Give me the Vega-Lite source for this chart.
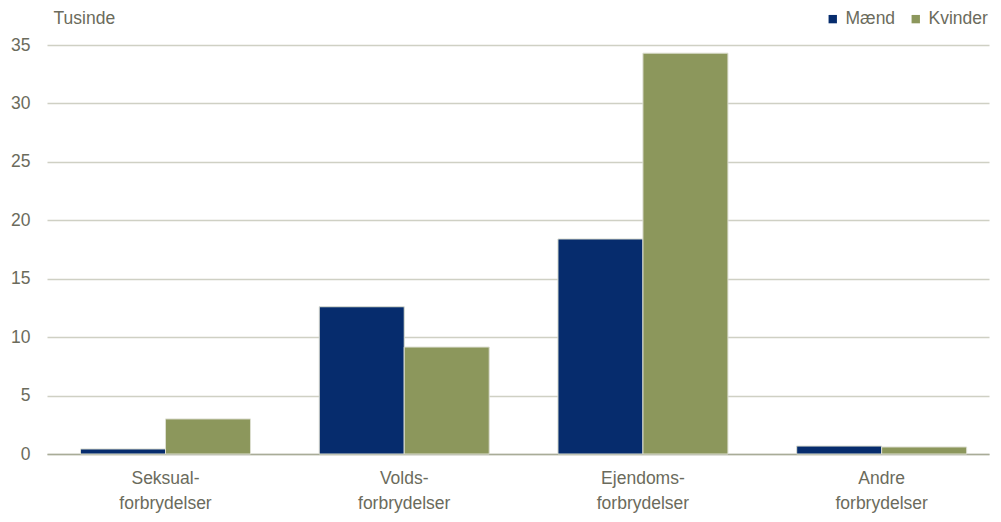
{
  "$schema": "https://vega.github.io/schema/vega-lite/v6.json",
  "autosize": {"type": "none"},
  "width": 942,
  "height": 409,
  "padding": {"left": 47, "top": 45, "right": 12, "bottom": 68},
  "background": "white",
  "config": {
    "view": {"stroke": null},
    "font": "Liberation Sans",
    "axis": {"labelFont": "Liberation Sans", "titleFont": "Liberation Sans", "labelColor": "#6B6B5C", "titleColor": "#6B6B5C"},
    "legend": {"labelFont": "Liberation Sans", "labelColor": "#6B6B5C"}
  },
  "data": {
    "values": [
      {"kategori": "Seksual-|forbrydelser", "koen": "Mænd", "vaerdi": 0.43},
      {"kategori": "Seksual-|forbrydelser", "koen": "Kvinder", "vaerdi": 3.0},
      {"kategori": "Volds-|forbrydelser", "koen": "Mænd", "vaerdi": 12.6},
      {"kategori": "Volds-|forbrydelser", "koen": "Kvinder", "vaerdi": 9.15},
      {"kategori": "Ejendoms-|forbrydelser", "koen": "Mænd", "vaerdi": 18.4},
      {"kategori": "Ejendoms-|forbrydelser", "koen": "Kvinder", "vaerdi": 34.3},
      {"kategori": "Andre|forbrydelser", "koen": "Mænd", "vaerdi": 0.68},
      {"kategori": "Andre|forbrydelser", "koen": "Kvinder", "vaerdi": 0.6}
    ]
  },
  "mark": {"type": "bar", "stroke": "#DCDED0", "strokeWidth": 1},
  "encoding": {
    "x": {
      "field": "kategori",
      "type": "nominal",
      "sort": null,
      "scale": {"paddingInner": 0.288, "paddingOuter": 0.117, "align": 0.6},
      "axis": {
        "title": null,
        "labelAngle": 0,
        "labelExpr": "split(datum.label, '|')",
        "labelFontSize": 17.5,
        "labelLineHeight": 25,
        "labelPadding": 15,
        "ticks": false,
        "domainColor": "#A9AC98",
        "domainWidth": 1.5,
        "grid": false
      }
    },
    "xOffset": {"field": "koen", "type": "nominal", "sort": ["Mænd", "Kvinder"], "scale": {"paddingInner": 0, "paddingOuter": 0}},
    "y": {
      "field": "vaerdi",
      "type": "quantitative",
      "scale": {"domain": [0, 35], "nice": false},
      "axis": {
        "title": "Tusinde",
        "titleAngle": 0,
        "titleAlign": "left",
        "titleBaseline": "alphabetic",
        "titleX": 6,
        "titleY": -22,
        "titleFontSize": 17.5,
        "titleFontWeight": "normal",
        "values": [0, 5, 10, 15, 20, 25, 30, 35],
        "labelFontSize": 17.5,
        "labelPadding": 17,
        "ticks": false,
        "domain": false,
        "gridColor": "#CFD0C4",
        "gridWidth": 1.5
      }
    },
    "color": {
      "field": "koen",
      "type": "nominal",
      "sort": ["Mænd", "Kvinder"],
      "scale": {"domain": ["Mænd", "Kvinder"], "range": ["#062C6D", "#8C975C"]},
      "legend": {
        "title": null,
        "orient": "none",
        "direction": "horizontal",
        "legendX": 777,
        "legendY": -35,
        "symbolType": "square",
        "symbolSize": 70,
        "symbolStrokeWidth": 0,
        "labelFontSize": 17.5,
        "labelOffset": 4,
        "columnPadding": 11
      }
    }
  }
}
